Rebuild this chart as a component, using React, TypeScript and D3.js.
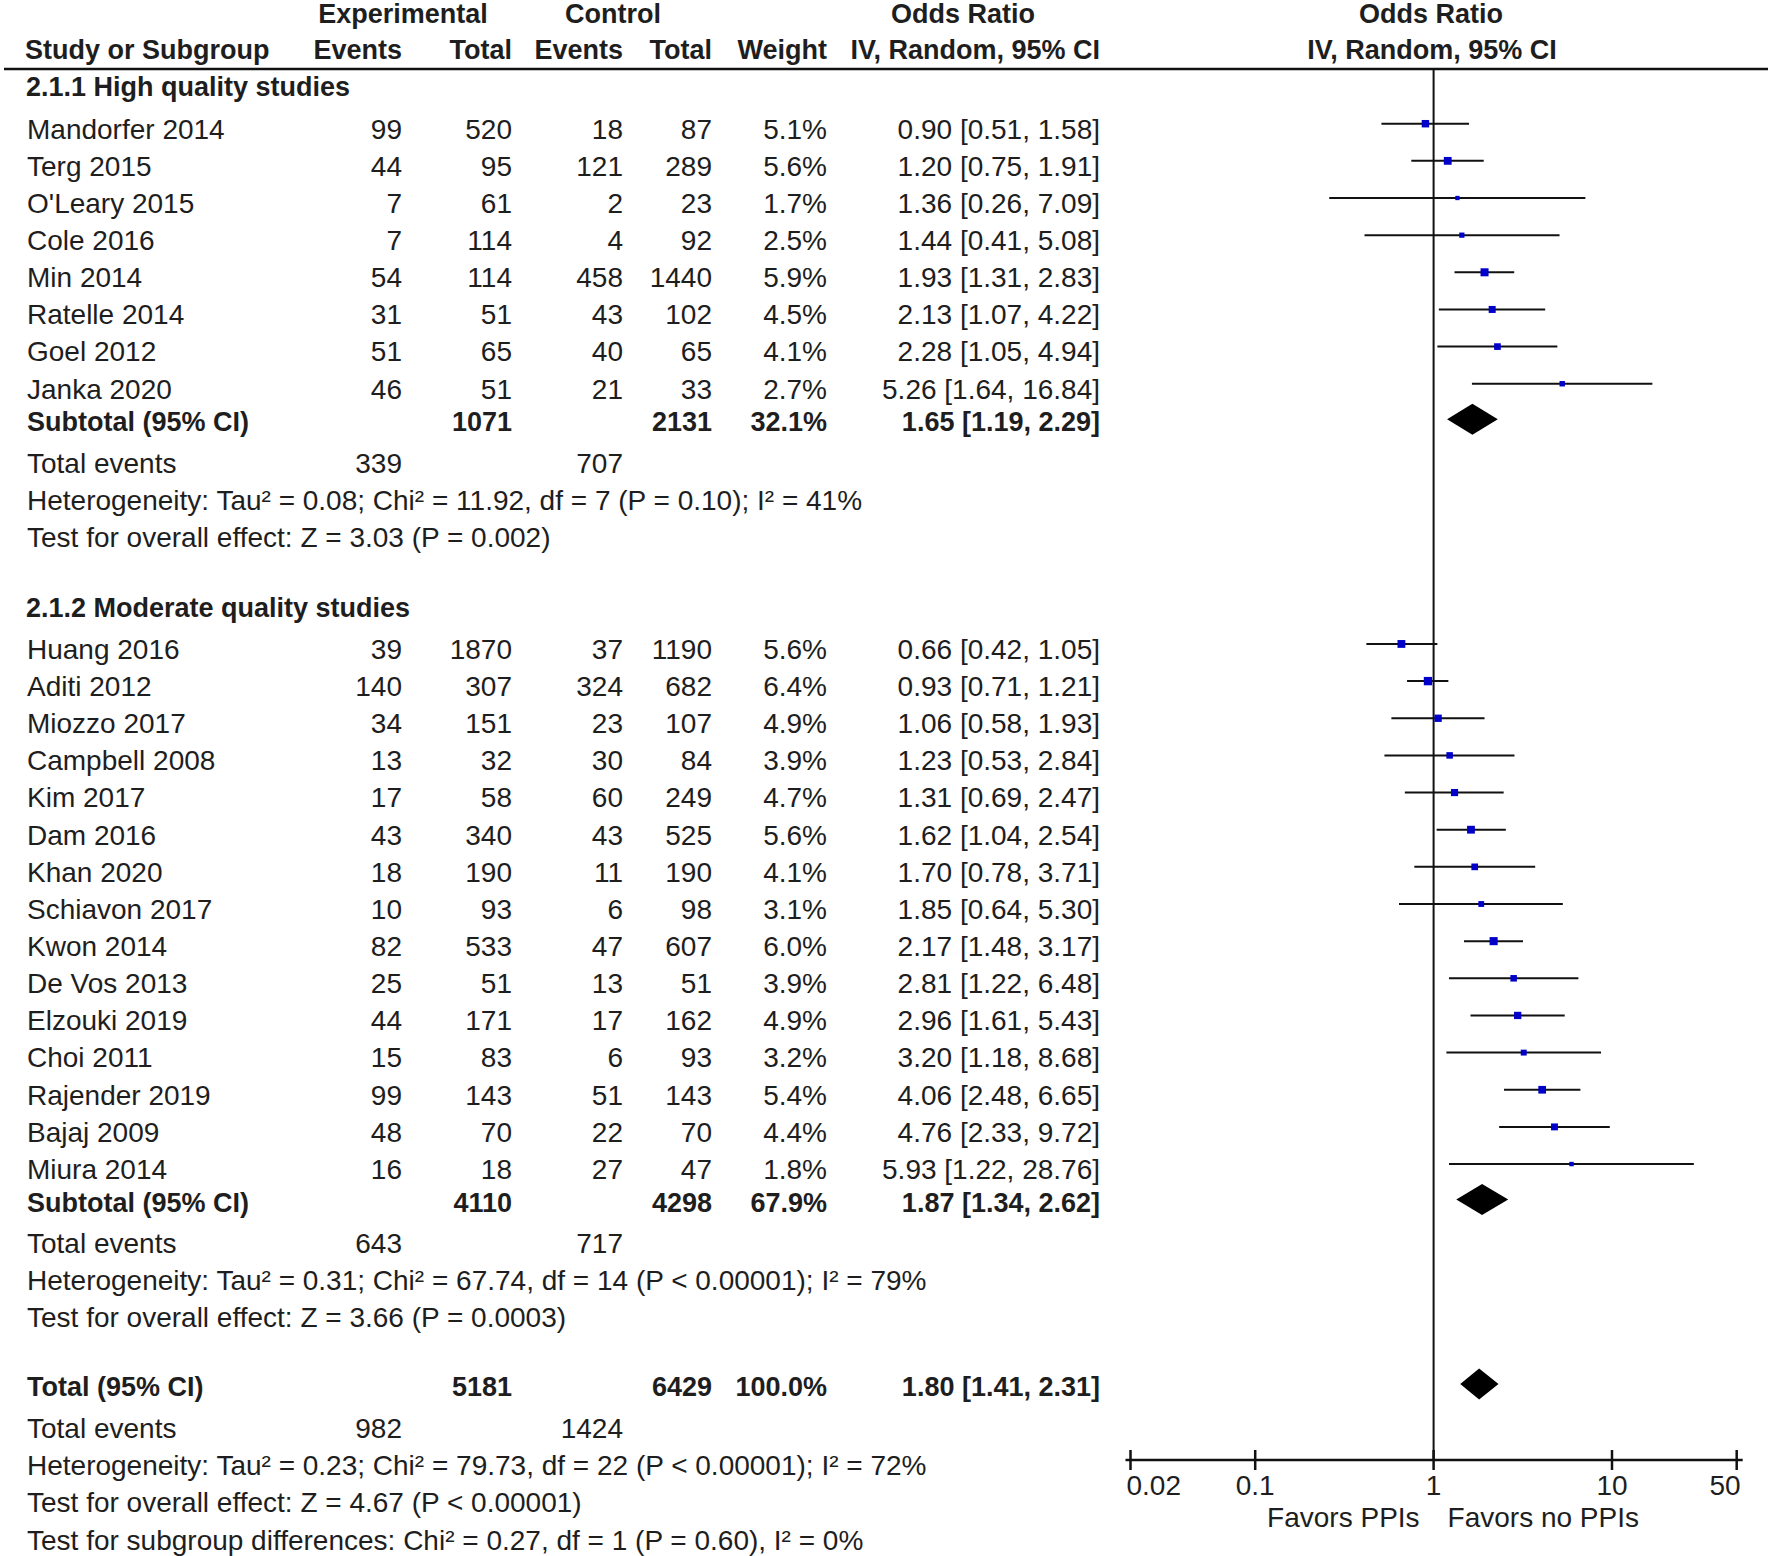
import React from 'react';
import * as d3 from 'd3';

type Study = { name: string; eE: number; eT: number; cE: number; cT: number; w: number; or: number; lo: number; hi: number };

const highQualityStudies: Study[] = [
  { name: 'Mandorfer 2014', eE: 99, eT: 520, cE: 18, cT: 87, w: 5.1, or: 0.9, lo: 0.51, hi: 1.58 },
  { name: 'Terg 2015', eE: 44, eT: 95, cE: 121, cT: 289, w: 5.6, or: 1.2, lo: 0.75, hi: 1.91 },
  { name: "O'Leary 2015", eE: 7, eT: 61, cE: 2, cT: 23, w: 1.7, or: 1.36, lo: 0.26, hi: 7.09 },
  { name: 'Cole 2016', eE: 7, eT: 114, cE: 4, cT: 92, w: 2.5, or: 1.44, lo: 0.41, hi: 5.08 },
  { name: 'Min 2014', eE: 54, eT: 114, cE: 458, cT: 1440, w: 5.9, or: 1.93, lo: 1.31, hi: 2.83 },
  { name: 'Ratelle 2014', eE: 31, eT: 51, cE: 43, cT: 102, w: 4.5, or: 2.13, lo: 1.07, hi: 4.22 },
  { name: 'Goel 2012', eE: 51, eT: 65, cE: 40, cT: 65, w: 4.1, or: 2.28, lo: 1.05, hi: 4.94 },
  { name: 'Janka 2020', eE: 46, eT: 51, cE: 21, cT: 33, w: 2.7, or: 5.26, lo: 1.64, hi: 16.84 },
];

const moderateQualityStudies: Study[] = [
  { name: 'Huang 2016', eE: 39, eT: 1870, cE: 37, cT: 1190, w: 5.6, or: 0.66, lo: 0.42, hi: 1.05 },
  { name: 'Aditi 2012', eE: 140, eT: 307, cE: 324, cT: 682, w: 6.4, or: 0.93, lo: 0.71, hi: 1.21 },
  { name: 'Miozzo 2017', eE: 34, eT: 151, cE: 23, cT: 107, w: 4.9, or: 1.06, lo: 0.58, hi: 1.93 },
  { name: 'Campbell 2008', eE: 13, eT: 32, cE: 30, cT: 84, w: 3.9, or: 1.23, lo: 0.53, hi: 2.84 },
  { name: 'Kim 2017', eE: 17, eT: 58, cE: 60, cT: 249, w: 4.7, or: 1.31, lo: 0.69, hi: 2.47 },
  { name: 'Dam 2016', eE: 43, eT: 340, cE: 43, cT: 525, w: 5.6, or: 1.62, lo: 1.04, hi: 2.54 },
  { name: 'Khan 2020', eE: 18, eT: 190, cE: 11, cT: 190, w: 4.1, or: 1.7, lo: 0.78, hi: 3.71 },
  { name: 'Schiavon 2017', eE: 10, eT: 93, cE: 6, cT: 98, w: 3.1, or: 1.85, lo: 0.64, hi: 5.3 },
  { name: 'Kwon 2014', eE: 82, eT: 533, cE: 47, cT: 607, w: 6.0, or: 2.17, lo: 1.48, hi: 3.17 },
  { name: 'De Vos 2013', eE: 25, eT: 51, cE: 13, cT: 51, w: 3.9, or: 2.81, lo: 1.22, hi: 6.48 },
  { name: 'Elzouki 2019', eE: 44, eT: 171, cE: 17, cT: 162, w: 4.9, or: 2.96, lo: 1.61, hi: 5.43 },
  { name: 'Choi 2011', eE: 15, eT: 83, cE: 6, cT: 93, w: 3.2, or: 3.2, lo: 1.18, hi: 8.68 },
  { name: 'Rajender 2019', eE: 99, eT: 143, cE: 51, cT: 143, w: 5.4, or: 4.06, lo: 2.48, hi: 6.65 },
  { name: 'Bajaj 2009', eE: 48, eT: 70, cE: 22, cT: 70, w: 4.4, or: 4.76, lo: 2.33, hi: 9.72 },
  { name: 'Miura 2014', eE: 16, eT: 18, cE: 27, cT: 47, w: 1.8, or: 5.93, lo: 1.22, hi: 28.76 },
];

type Summary = { label: string; eT: number; cT: number; w: number; or: number; lo: number; hi: number; evE: number; evC: number; stats: string[] };

const subgroupTitles = ['2.1.1 High quality studies', '2.1.2 Moderate quality studies'];

const subgroupSummaries: Summary[] = [
  {
    label: 'Subtotal (95% CI)', eT: 1071, cT: 2131, w: 32.1, or: 1.65, lo: 1.19, hi: 2.29, evE: 339, evC: 707,
    stats: ['Heterogeneity: Tau\u00b2 = 0.08; Chi\u00b2 = 11.92, df = 7 (P = 0.10); I\u00b2 = 41%', 'Test for overall effect: Z = 3.03 (P = 0.002)'],
  },
  {
    label: 'Subtotal (95% CI)', eT: 4110, cT: 4298, w: 67.9, or: 1.87, lo: 1.34, hi: 2.62, evE: 643, evC: 717,
    stats: ['Heterogeneity: Tau\u00b2 = 0.31; Chi\u00b2 = 67.74, df = 14 (P < 0.00001); I\u00b2 = 79%', 'Test for overall effect: Z = 3.66 (P = 0.0003)'],
  },
];

const overallSummary: Summary = {
  label: 'Total (95% CI)', eT: 5181, cT: 6429, w: 100.0, or: 1.8, lo: 1.41, hi: 2.31, evE: 982, evC: 1424,
  stats: [
    'Heterogeneity: Tau\u00b2 = 0.23; Chi\u00b2 = 79.73, df = 22 (P < 0.00001); I\u00b2 = 72%',
    'Test for overall effect: Z = 4.67 (P < 0.00001)',
    'Test for subgroup differences: Chi\u00b2 = 0.27, df = 1 (P = 0.60), I\u00b2 = 0%',
  ],
};

const axisTicks = [0.02, 0.1, 1, 10, 50];
const axisTickLabels = ['0.02', '0.1', '1', '10', '50'];
const favorLabels = ['Favors PPIs', 'Favors no PPIs'];

const headerTop = ['Experimental', 'Control', 'Odds Ratio', 'Odds Ratio'];
const headerBottom = ['Study or Subgroup', 'Events', 'Total', 'Events', 'Total', 'Weight', 'IV, Random, 95% CI', 'IV, Random, 95% CI'];

// ---------- layout ----------
const W = 1770;
const H = 1556;
const FONT = "'Liberation Sans', Arial, Helvetica, sans-serif";
const FS = 28;
const FSB = 27;
const TEXT = '#1e1e1e';
const SQUARE = '#0000c8';

const COL = { name: 27, eE: 402, eT: 512, cE: 623, cT: 712, w: 827, ci: 1100 };

const xScale = d3.scaleLog().domain([0.02, 50]).range([1130.5, 1736.7]);
const X1 = xScale(1);
const fmt2 = d3.format('.2f');
const fmt1 = d3.format('.1f');
const ciText = (o: number, l: number, h: number) => `${fmt2(o)} [${fmt2(l)}, ${fmt2(h)}]`;

type Row =
  | { kind: 'group'; y: number; title: string }
  | { kind: 'study'; y: number; s: Study }
  | { kind: 'summary'; y: number; s: Summary }
  | { kind: 'events'; y: number; s: Summary }
  | { kind: 'stat'; y: number; text: string };

const STEP = 37.15;
function buildRows(): Row[] {
  const rows: Row[] = [];
  let y = 86.9;
  const groups = [highQualityStudies, moderateQualityStudies];
  groups.forEach((studies, gi) => {
    if (gi > 0) y += 70;
    rows.push({ kind: 'group', y, title: subgroupTitles[gi] });
    y += 41.8;
    studies.forEach((s, i) => {
      if (i > 0) y += STEP;
      rows.push({ kind: 'study', y, s });
    });
    y += 33;
    rows.push({ kind: 'summary', y, s: subgroupSummaries[gi] });
    y += 41;
    rows.push({ kind: 'events', y, s: subgroupSummaries[gi] });
    subgroupSummaries[gi].stats.forEach((t) => {
      y += 37.2;
      rows.push({ kind: 'stat', y, text: t });
    });
  });
  y += 69;
  rows.push({ kind: 'summary', y, s: overallSummary });
  y += 41.8;
  rows.push({ kind: 'events', y, s: overallSummary });
  overallSummary.stats.forEach((t) => {
    y += 37.2;
    rows.push({ kind: 'stat', y, text: t });
  });
  return rows;
}

const T = (props: { x: number; y: number; anchor?: 'start' | 'middle' | 'end'; bold?: boolean; children: React.ReactNode }) => (
  <text
    x={props.x}
    y={props.y}
    dy="0.35em"
    textAnchor={props.anchor || 'start'}
    fontFamily={FONT}
    fontSize={props.bold ? FSB : FS}
    fontWeight={props.bold ? 'bold' : 'normal'}
    fill={TEXT}
  >
    {props.children}
  </text>
);

const AXIS_Y = 1460;
const HLINE_Y = 69;

export default function App() {
  const rows = buildRows();
  return (
    <svg width={W} height={H} style={{ position: 'absolute', left: 0, top: 0, background: '#fff' }} xmlns="http://www.w3.org/2000/svg">
      <rect x={0} y={0} width={W} height={H} fill="#fff" />
      {/* headers */}
      <T x={403} y={13.5} anchor="middle" bold>{headerTop[0]}</T>
      <T x={613} y={13.5} anchor="middle" bold>{headerTop[1]}</T>
      <T x={963} y={13.5} anchor="middle" bold>{headerTop[2]}</T>
      <T x={1431} y={13.5} anchor="middle" bold>{headerTop[3]}</T>
      <T x={25} y={49.7} bold>{headerBottom[0]}</T>
      <T x={COL.eE} y={49.7} anchor="end" bold>{headerBottom[1]}</T>
      <T x={COL.eT} y={49.7} anchor="end" bold>{headerBottom[2]}</T>
      <T x={COL.cE} y={49.7} anchor="end" bold>{headerBottom[3]}</T>
      <T x={COL.cT} y={49.7} anchor="end" bold>{headerBottom[4]}</T>
      <T x={COL.w} y={49.7} anchor="end" bold>{headerBottom[5]}</T>
      <T x={COL.ci} y={49.7} anchor="end" bold>{headerBottom[6]}</T>
      <T x={1432} y={49.7} anchor="middle" bold>{headerBottom[7]}</T>
      <line x1={4} x2={1768} y1={HLINE_Y} y2={HLINE_Y} stroke="#111" strokeWidth={2.5} />

      {/* null line */}
      <line x1={X1} x2={X1} y1={HLINE_Y} y2={AXIS_Y} stroke="#111" strokeWidth={2} />

      {rows.map((r, i) => {
        if (r.kind === 'group') {
          return <T key={i} x={26} y={r.y} bold>{r.title}</T>;
        }
        if (r.kind === 'study') {
          const s = r.s;
          const side = 3.3 * Math.sqrt(s.w);
          const ly = r.y - 5;
          return (
            <g key={i}>
              <T x={COL.name} y={r.y}>{s.name}</T>
              <T x={COL.eE} y={r.y} anchor="end">{s.eE}</T>
              <T x={COL.eT} y={r.y} anchor="end">{s.eT}</T>
              <T x={COL.cE} y={r.y} anchor="end">{s.cE}</T>
              <T x={COL.cT} y={r.y} anchor="end">{s.cT}</T>
              <T x={COL.w} y={r.y} anchor="end">{fmt1(s.w) + '%'}</T>
              <T x={COL.ci} y={r.y} anchor="end">{ciText(s.or, s.lo, s.hi)}</T>
              <line x1={xScale(s.lo)} x2={xScale(s.hi)} y1={ly} y2={ly} stroke="#111" strokeWidth={2} />
              <rect x={xScale(s.or) - side / 2} y={ly - side / 2} width={side} height={side} fill={SQUARE} />
            </g>
          );
        }
        if (r.kind === 'summary') {
          const s = r.s;
          const dy = r.y - 2.5;
          const hh = 15.5;
          const path = `M${xScale(s.lo)},${dy} L${xScale(s.or)},${dy - hh} L${xScale(s.hi)},${dy} L${xScale(s.or)},${dy + hh} Z`;
          return (
            <g key={i}>
              <T x={COL.name} y={r.y} bold>{s.label}</T>
              <T x={COL.eT} y={r.y} anchor="end" bold>{s.eT}</T>
              <T x={COL.cT} y={r.y} anchor="end" bold>{s.cT}</T>
              <T x={COL.w} y={r.y} anchor="end" bold>{fmt1(s.w) + '%'}</T>
              <T x={COL.ci} y={r.y} anchor="end" bold>{ciText(s.or, s.lo, s.hi)}</T>
              <path d={path} fill="#000" />
            </g>
          );
        }
        if (r.kind === 'events') {
          return (
            <g key={i}>
              <T x={COL.name} y={r.y}>Total events</T>
              <T x={COL.eE} y={r.y} anchor="end">{r.s.evE}</T>
              <T x={COL.cE} y={r.y} anchor="end">{r.s.evC}</T>
            </g>
          );
        }
        return <T key={i} x={COL.name} y={r.y}>{r.text}</T>;
      })}

      {/* axis */}
      <line x1={xScale(0.02) - 5} x2={xScale(50) + 6} y1={AXIS_Y} y2={AXIS_Y} stroke="#111" strokeWidth={2.5} />
      {axisTicks.map((t, i) => (
        <g key={t}>
          <line x1={xScale(t)} x2={xScale(t)} y1={AXIS_Y - 10} y2={AXIS_Y + 10} stroke="#111" strokeWidth={2.5} />
          <T
            x={i === 0 ? xScale(t) - 4 : i === axisTicks.length - 1 ? xScale(t) + 4 : xScale(t)}
            y={1485}
            anchor={i === 0 ? 'start' : i === axisTicks.length - 1 ? 'end' : 'middle'}
          >
            {axisTickLabels[i]}
          </T>
        </g>
      ))}
      <T x={X1 - 14} y={1517} anchor="end">{favorLabels[0]}</T>
      <T x={X1 + 14} y={1517} anchor="start">{favorLabels[1]}</T>
    </svg>
  );
}
